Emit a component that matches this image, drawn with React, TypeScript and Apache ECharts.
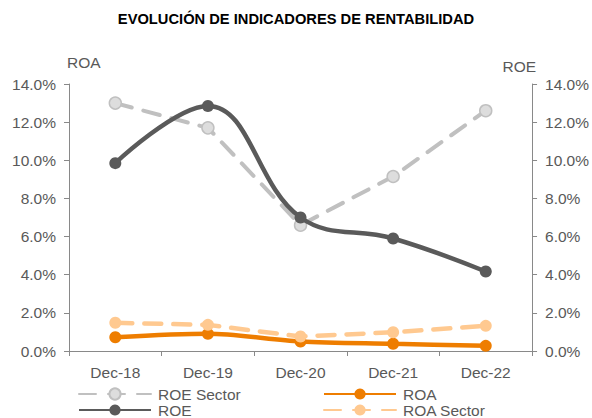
import React, { useEffect, useRef } from "react";
import * as echarts from "echarts";

const categories = ["Dec-18", "Dec-19", "Dec-20", "Dec-21", "Dec-22"];
const roeSector = [13.0, 11.7, 6.6, 9.15, 12.6];
const roa = [0.72, 0.9, 0.5, 0.38, 0.27];
const roe = [9.85, 12.85, 7.0, 5.9, 4.17];
const roaSector = [1.48, 1.37, 0.76, 0.98, 1.32];
const yTicks = [0, 2, 4, 6, 8, 10, 12, 14];

const FONT = "'Liberation Sans', Arial, sans-serif";
const GREY = "#595959";
const FS = 15.5;

export default function App() {
  const ref = useRef<HTMLDivElement>(null);
  useEffect(() => {
    if (!ref.current) return;
    const chart = echarts.init(ref.current, undefined, { renderer: "svg" });
    const yAxisBase = (pos: "left" | "right", name: string) => ({
      type: "value",
      position: pos,
      min: yTicks[0],
      max: yTicks[yTicks.length - 1],
      interval: 2,
      name,
      nameGap: 14,
      nameTextStyle: {
        color: GREY,
        fontSize: FS,
        fontFamily: FONT,
        align: pos === "left" ? "left" : "right",
        padding: pos === "left" ? [0, 0, 0, -2] : [0, -4, -4, 0],
      },
      axisLine: { show: true, lineStyle: { color: "#898989", width: 1 } },
      axisTick: { show: true, length: 5, lineStyle: { color: "#898989" } },
      splitLine: { show: false },
      axisLabel: {
        color: GREY,
        fontSize: FS,
        fontFamily: FONT,
        margin: 13,
        formatter: (v: number) => v.toFixed(1) + "%",
      },
    });
    const sym = 12;
    const legendBase = {
      orient: "vertical",
      top: 386,
      height: 40,
      padding: 0,
      itemWidth: 72,
      itemHeight: 14,
      itemGap: 0,
      textStyle: { color: GREY, fontSize: FS, fontFamily: FONT, lineHeight: 16, height: 16, padding: [0, 0, 0, 2] },
    };
    chart.setOption({
      animation: false,
      title: {
        text: "EVOLUCIÓN DE INDICADORES DE RENTABILIDAD",
        left: "center",
        top: 6,
        textStyle: { fontSize: 14.7, fontWeight: "bold", color: "#000", fontFamily: FONT },
      },
      grid: { left: 69, right: 59, top: 84, bottom: 67, containLabel: false },
      legend: [
        { ...legendBase, left: 78, data: ["ROE Sector", "ROE"] },
        { ...legendBase, left: 323, data: ["ROA", "ROA Sector"] },
      ],
      xAxis: {
        type: "category",
        data: categories,
        boundaryGap: true,
        axisLine: { lineStyle: { color: "#898989" } },
        axisTick: { show: true, length: 5, lineStyle: { color: "#898989" } },
        axisLabel: { color: GREY, fontSize: FS, fontFamily: FONT, margin: 13 },
      },
      yAxis: [yAxisBase("left", "ROA"), yAxisBase("right", "ROE")],
      series: [
        {
          name: "ROE Sector",
          type: "line",
          yAxisIndex: 1,
          data: roeSector,
          symbol: "circle",
          symbolSize: sym,
          itemStyle: { color: "#DDDDDD", borderColor: "#C0C0C0", borderWidth: 1.5 },
          lineStyle: { color: "#C0C0C0", width: 4, type: [17, 12], cap: "round" },
          z: 2,
        },
        {
          name: "ROA",
          type: "line",
          yAxisIndex: 0,
          data: roa,
          smooth: 0.3,
          symbol: "circle",
          symbolSize: sym,
          itemStyle: { color: "#EE7D00" },
          lineStyle: { color: "#EE7D00", width: 4.5 },
          z: 3,
        },
        {
          name: "ROE",
          type: "line",
          yAxisIndex: 1,
          data: roe,
          smooth: 0.4,
          symbol: "circle",
          symbolSize: sym,
          itemStyle: { color: "#5A5A5A" },
          lineStyle: { color: "#5A5A5A", width: 4.5 },
          z: 4,
        },
        {
          name: "ROA Sector",
          type: "line",
          yAxisIndex: 0,
          data: roaSector,
          symbol: "circle",
          symbolSize: sym,
          itemStyle: { color: "#FFC990" },
          lineStyle: { color: "#FFC990", width: 4.5, type: [17, 12], cap: "round" },
          z: 5,
        },
      ],
    });
    return () => chart.dispose();
  }, []);
  return <div ref={ref} style={{ width: 592, height: 418, position: "absolute", left: 0, top: 0 }} />;
}
